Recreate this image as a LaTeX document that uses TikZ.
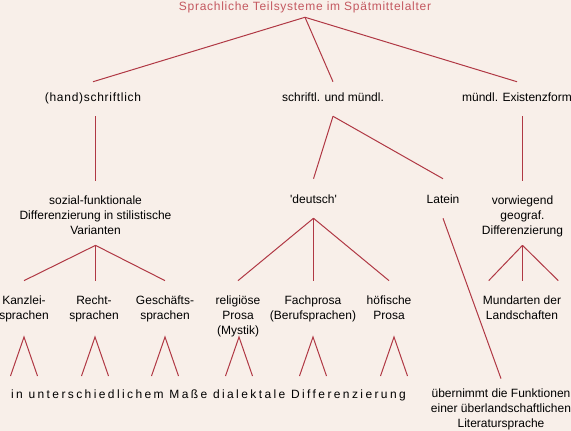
\documentclass[tikz,border=0pt]{standalone}
\usepackage{fontspec}
\setmainfont{Liberation Sans}
\usetikzlibrary{calc}

\definecolor{bgcream}{RGB}{248,239,233}
\definecolor{linered}{RGB}{176,56,68}
\definecolor{titlered}{RGB}{196,88,96}

\tikzset{
  txt/.style={inner sep=0pt, align=center, font=\fontsize{9}{11.25}\selectfont,
    execute at begin node=\strut, execute at end node=\strut},
  spaced/.style={txt, font=\fontsize{9}{11.25}\selectfont\addfontfeature{LetterSpace=#1}},
  head/.style={spaced=6, text=titlered},
  link/.style={draw=linered, line width=0.75pt},
}

\begin{document}
\begin{tikzpicture}[x=0.75pt,y=0.75pt,yscale=-1,xscale=1]
\fill[bgcream] (0,0) rectangle (571,431);
\useasboundingbox (0,0) rectangle (571,431);

%Title
\node[head] (title) at (305,8) {Sprachliche Teilsysteme im Spätmittelalter};

%first level
\node[spaced=6] (hand) at (93,99) {(hand)schriftlich};
\node[txt] (schr) at (333,99) {schriftl. und mündl.};
\node[txt] (mex) at (517,99) {mündl. Existenzform};

%second level
\node[txt] (soz) at (95.5,217) {sozial-funktionale\\Differenzierung in stilistische\\Varianten};
\node[txt] (deu) at (313.5,201) {\textquotesingle deutsch\textquotesingle};
\node[txt] (lat) at (443,201) {Latein};
\node[txt] (vor) at (522.5,217) {vorwiegend\\geograf.\\Differenzierung};

%third level
\node[txt] (kan) at (24,309.5) {Kanzlei-\\sprachen};
\node[txt] (rec) at (94,309.5) {Recht-\\sprachen};
\node[txt] (ges) at (165,309.5) {Geschäfts-\\sprachen};
\node[txt] (rel) at (238,317) {religiöse\\Prosa\\(Mystik)};
\node[txt] (fach) at (313,309.5) {Fachprosa\\(Berufsprachen)};
\node[txt] (hof) at (389,309.5) {höfische\\Prosa};
\node[txt] (mund) at (522,309.5) {Mundarten der\\Landschaften};

%bottom line
\node[spaced=20] (dial) at (208.5,395) {in unterschiedlichem Maße dialektale Differenzierung};
\node[txt] (ueb) at (501,410) {übernimmt die Funktionen\\einer überlandschaftlichen\\Literatursprache};

%connectors from the title
\draw[link] ($(title.south)+(0,1.5)$) -- ($(hand.north)+(0,-9.5)$);
\draw[link] ($(title.south)+(0,1.5)$) -- ($(schr.north)+(0,-9.5)$);
\draw[link] ($(title.south)+(0,1.5)$) -- ($(mex.north)+(0,-9.5)$);

%first to second level
\draw[link] ($(soz.north |- hand.south)+(0,9.5)$) -- ($(soz.north)+(0,-14.5)$);
\draw[link] ($(schr.south)+(0,9.5)$) -- ($(deu.north)+(0,-14.5)$);
\draw[link] ($(schr.south)+(0,9.5)$) -- ($(lat.north)+(0,-14.5)$);
\draw[link] ($(vor.north |- mex.south)+(0,9.5)$) -- ($(vor.north)+(0,-14.5)$);

%second to third level
\draw[link] ($(soz.south)+(0,6.5)$) -- ($(kan.north)+(0,-14.5)$);
\draw[link] ($(soz.south)+(0,6.5)$) -- ($(soz.south |- rec.north)+(0,-14.5)$);
\draw[link] ($(soz.south)+(0,6.5)$) -- ($(ges.north)+(0,-14.5)$);
\draw[link] ($(deu.south)+(0,9.5)$) -- ($(rel.north)+(0,-14.5)$);
\draw[link] ($(deu.south)+(0,9.5)$) -- ($(deu.south |- fach.north)+(0,-14.5)$);
\draw[link] ($(deu.south)+(0,9.5)$) -- ($(hof.north)+(0,-14.5)$);
\draw[link] ($(vor.south)+(0,6.5)$) -- ($(mund.north west)+(6,-14.5)$);
\draw[link] ($(vor.south)+(0,6.5)$) -- ($(vor.south |- mund.north)+(0,-14.5)$);
\draw[link] ($(vor.south)+(0,6.5)$) -- ($(mund.north east)+(-3,-14.5)$);
\draw[link] ($(lat.south)+(0,9.5)$) -- ($(ueb.north)+(0,-9.5)$);

%carets above the bottom line
\foreach \x in {24,95,165,239,313,394}
  \draw[link] (\x-13.5,376) -- (\x,337) -- (\x+13.5,376);

\end{tikzpicture}
\end{document}
